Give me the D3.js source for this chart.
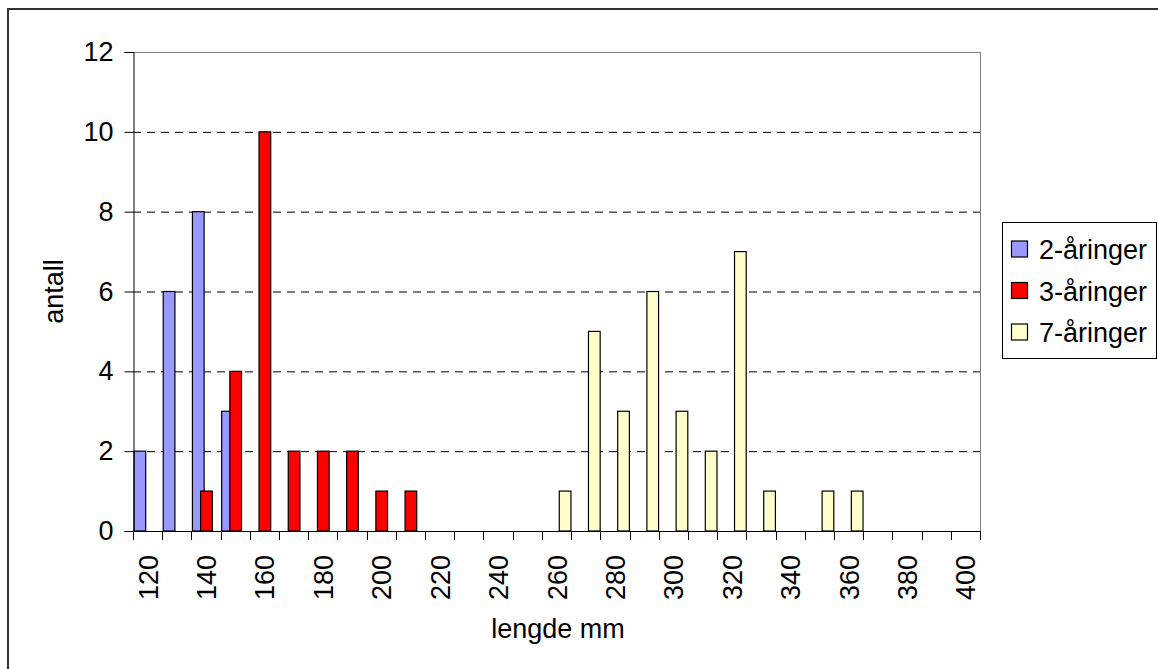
<!DOCTYPE html>
<html>
<head>
<meta charset="utf-8">
<script src="https://cdn.jsdelivr.net/npm/d3@7/dist/d3.min.js"></script>
<style>
  html, body { margin: 0; padding: 0; background: #fff; }
  svg { display: block; }
  text { font-family: "Liberation Sans", Arial, sans-serif; fill: #000; }
</style>
</head>
<body>
<script>
// ---- data ----
const categories = d3.range(120, 401, 10);           // lengde mm (29 classes)
const seriesNames = ["2-åringer", "3-åringer", "7-åringer"];
const seriesColors = ["#9999FF", "#FF0000", "#FFFFCC"];
const values2 = [2, 6, 8, 3, 0, 0, 0, 0, 0, 0, 0, 0, 0, 0, 0, 0, 0, 0, 0, 0, 0, 0, 0, 0, 0, 0, 0, 0, 0];
const values3 = [0, 0, 1, 4, 10, 2, 2, 2, 1, 1, 0, 0, 0, 0, 0, 0, 0, 0, 0, 0, 0, 0, 0, 0, 0, 0, 0, 0, 0];
const values7 = [0, 0, 0, 0, 0, 0, 0, 0, 0, 0, 0, 0, 0, 0, 1, 5, 3, 6, 3, 2, 7, 1, 0, 1, 1, 0, 0, 0, 0];
const yTicks = [0, 2, 4, 6, 8, 10, 12];
const xTickLabels = [120, 140, 160, 180, 200, 220, 240, 260, 280, 300, 320, 340, 360, 380, 400];

const W = 1158, H = 669;
const plot = { left: 133, right: 980, top: 52, bottom: 531 };

const svg = d3.select("body").append("svg").attr("width", W).attr("height", H);

// outer chart border (extends beyond the visible area on right/bottom)
svg.append("rect").attr("x", 8).attr("y", 9).attr("width", 1200).attr("height", 700)
  .attr("fill", "#fff").attr("stroke", "#333").attr("stroke-width", 2);

const x = d3.scaleBand().domain(categories).range([plot.left, plot.right]).padding(0);
const y = d3.scaleLinear().domain([0, 12]).range([plot.bottom, plot.top]);

// gridlines
svg.append("g").selectAll("line").data(yTicks.filter(t => t > 0 && t < 12)).join("line")
  .attr("x1", plot.left).attr("x2", plot.right)
  .attr("y1", d => y(d) + 0.5).attr("y2", d => y(d) + 0.5)
  .attr("stroke", "#000").attr("stroke-width", 1).attr("stroke-dasharray", "8,6");

// plot frame top + right (gray)
svg.append("line").attr("x1", plot.left).attr("x2", plot.right)
  .attr("y1", y(12) + 0.5).attr("y2", y(12) + 0.5).attr("stroke", "#808080");
svg.append("line").attr("x1", plot.right + 0.5).attr("x2", plot.right + 0.5)
  .attr("y1", plot.top).attr("y2", plot.bottom).attr("stroke", "#808080");

// bars
const bw = x.bandwidth();
const offset = 0.035, step = 0.28, barW = 0.40;
const allSeries = [values2, values3, values7];
allSeries.forEach((vals, si) => {
  svg.append("g").selectAll("rect")
    .data(categories.map((c, i) => ({ c, v: vals[i] })).filter(d => d.v > 0))
    .join("rect")
    .attr("x", d => x(d.c) + bw * (offset + step * si))
    .attr("width", bw * barW)
    .attr("y", d => y(d.v))
    .attr("height", d => y(0) - y(d.v))
    .attr("fill", seriesColors[si])
    .attr("stroke", "#000").attr("stroke-width", 1.2);
});

// y axis
const yAxis = d3.axisLeft(y).tickValues(yTicks).tickSize(9).tickPadding(11);
const gy = svg.append("g").attr("transform", `translate(${plot.left + 0.5},0)`).call(yAxis);
gy.selectAll("text").style("font-size", "27px").style("font-family", '"Liberation Sans", Arial, sans-serif');
gy.select(".domain").attr("stroke", "#000");

// x axis (ticks at category boundaries)
const gx = svg.append("g");
gx.append("line").attr("x1", plot.left).attr("x2", plot.right)
  .attr("y1", plot.bottom + 0.5).attr("y2", plot.bottom + 0.5).attr("stroke", "#000");
const boundaries = categories.map(c => x(c)).concat([plot.right]);
gx.selectAll("line.tk").data(boundaries).join("line").attr("class", "tk")
  .attr("x1", d => Math.round(d) + 0.5).attr("x2", d => Math.round(d) + 0.5)
  .attr("y1", plot.bottom).attr("y2", plot.bottom + 9).attr("stroke", "#000");
gx.selectAll("text").data(xTickLabels).join("text")
  .attr("transform", d => `translate(${x(d) + bw / 2 + 10},555) rotate(-90)`)
  .attr("text-anchor", "end")
  .style("font-size", "27px")
  .text(d => d);

// axis titles
svg.append("text").attr("transform", `translate(63,${(plot.top + plot.bottom) / 2}) rotate(-90)`)
  .attr("text-anchor", "middle").style("font-size", "27px").text("antall");
svg.append("text").attr("x", 558).attr("y", 638).attr("text-anchor", "middle")
  .style("font-size", "27px").text("lengde mm");

// legend
const lg = svg.append("g");
lg.append("rect").attr("x", 1002.5).attr("y", 222.5).attr("width", 154).attr("height", 136)
  .attr("fill", "#fff").attr("stroke", "#000");
seriesNames.forEach((name, i) => {
  const cy = 249 + i * 41.5;
  lg.append("rect").attr("x", 1011.5).attr("y", cy - 8).attr("width", 16).attr("height", 16)
    .attr("fill", seriesColors[i]).attr("stroke", "#000").attr("stroke-width", 1.2);
  lg.append("text").attr("x", 1039).attr("y", cy + 10).style("font-size", "27px").text(name);
});
</script>
</body>
</html>
